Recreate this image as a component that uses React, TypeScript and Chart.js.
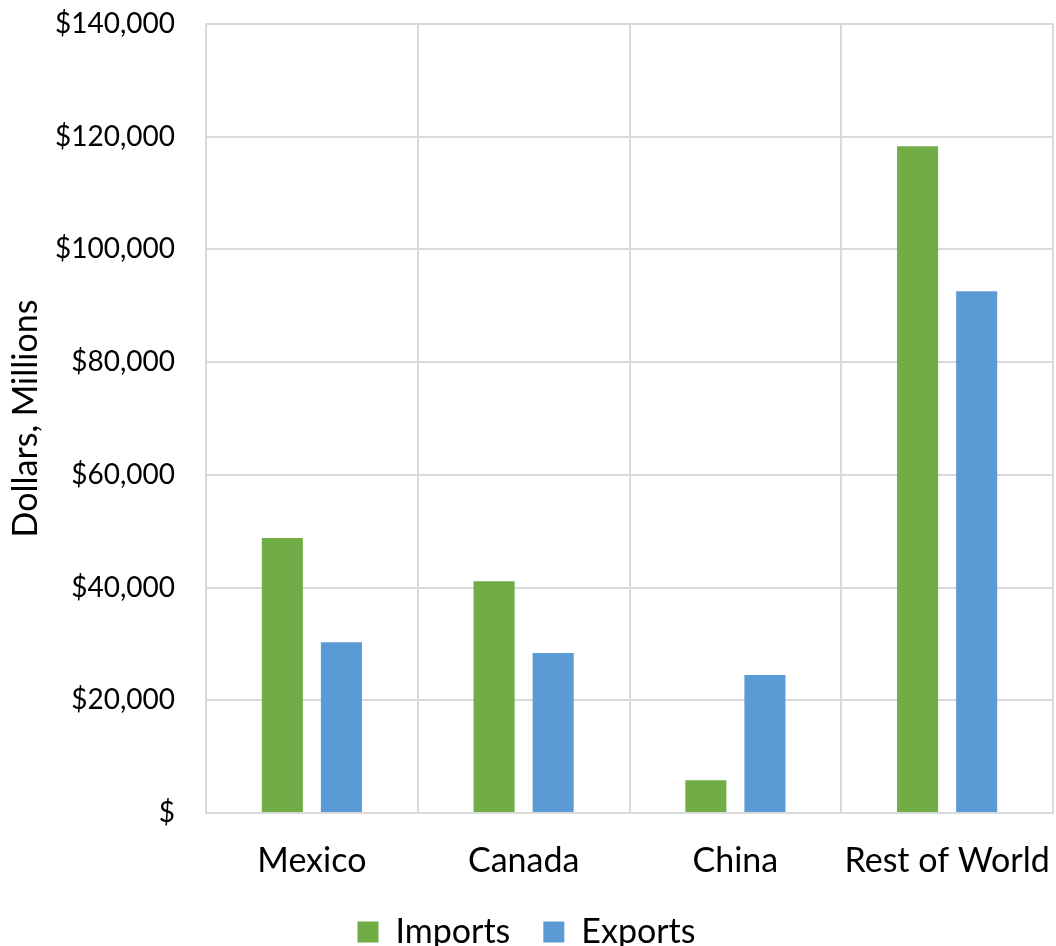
import React, { useEffect, useRef } from "react";
import { Chart, registerables } from "chart.js";

Chart.register(...registerables);

const categories = ["Mexico", "Canada", "China", "Rest of World"];
const importsValues = [48800, 41100, 5800, 118300];
const exportsValues = [30300, 28400, 24500, 92600];
const yTickValues = [0, 20000, 40000, 60000, 80000, 100000, 120000, 140000];
const yAxisTitle = "Dollars, Millions";
const seriesNames = ["Imports", "Exports"];

const FONT = "Lato";

export default function App() {
  const ref = useRef<HTMLCanvasElement | null>(null);
  useEffect(() => {
    if (!ref.current) return;
    const chart = new Chart(ref.current, {
      type: "bar",
      data: {
        labels: categories,
        datasets: [
          {
            label: seriesNames[0],
            data: importsValues,
            backgroundColor: "#70AD47",
            borderWidth: 0,
            categoryPercentage: 0.558,
            barPercentage: 0.695,
          },
          {
            label: seriesNames[1],
            data: exportsValues,
            backgroundColor: "#5B9BD5",
            borderWidth: 0,
            categoryPercentage: 0.558,
            barPercentage: 0.695,
          },
        ],
      },
      options: {
        animation: false,
        responsive: true,
        maintainAspectRatio: false,
        layout: { padding: { left: 0, right: 3, top: 24, bottom: -13 } },
        plugins: {
          tooltip: { enabled: false },
          legend: {
            position: "bottom",
            labels: {
              color: "#000",
              font: { family: FONT, size: 34, lineHeight: 1.0 },
              boxWidth: 21,
              boxHeight: 21,
              padding: 33,
            },
          },
        },
        scales: {
          x: {
            grid: {
              display: true,
              offset: true,
              color: "#d9d9d9",
              lineWidth: 2,
              drawTicks: true,
              tickLength: 28,
              tickColor: "rgba(0,0,0,0)",
            },
            border: { display: true, color: "#d9d9d9", width: 2 },
            ticks: { color: "#000", font: { family: FONT, size: 34 }, padding: 0 },
            afterFit: (scale: any) => {
              scale.height = 69;
            },
          },
          y: {
            min: 0,
            max: 140000,
            afterBuildTicks: (scale: any) => {
              scale.ticks = yTickValues.map((v) => ({ value: v }));
            },
            grid: {
              color: "#d9d9d9",
              lineWidth: 2,
              drawTicks: true,
              tickLength: 31,
              tickColor: "rgba(0,0,0,0)",
            },
            border: { display: true, color: "#d9d9d9", width: 2 },
            ticks: {
              color: "#000",
              font: { family: FONT, size: 28 },
              padding: 0,
              callback: (v: any) => (Number(v) === 0 ? "$" : "$" + Number(v).toLocaleString("en-US")),
            },
            title: {
              display: true,
              text: yAxisTitle,
              color: "#000",
              font: { family: FONT, size: 34 },
              padding: { top: 6, bottom: 0 },
            },
            afterFit: (scale: any) => {
              scale.width = 206;
            },
          },
        },
      },
    });
    return () => chart.destroy();
  }, []);
  return (
    <div style={{ position: "fixed", left: 0, top: 0, width: 1056, height: 946, background: "#fff" }}>
      <canvas ref={ref} />
    </div>
  );
}
